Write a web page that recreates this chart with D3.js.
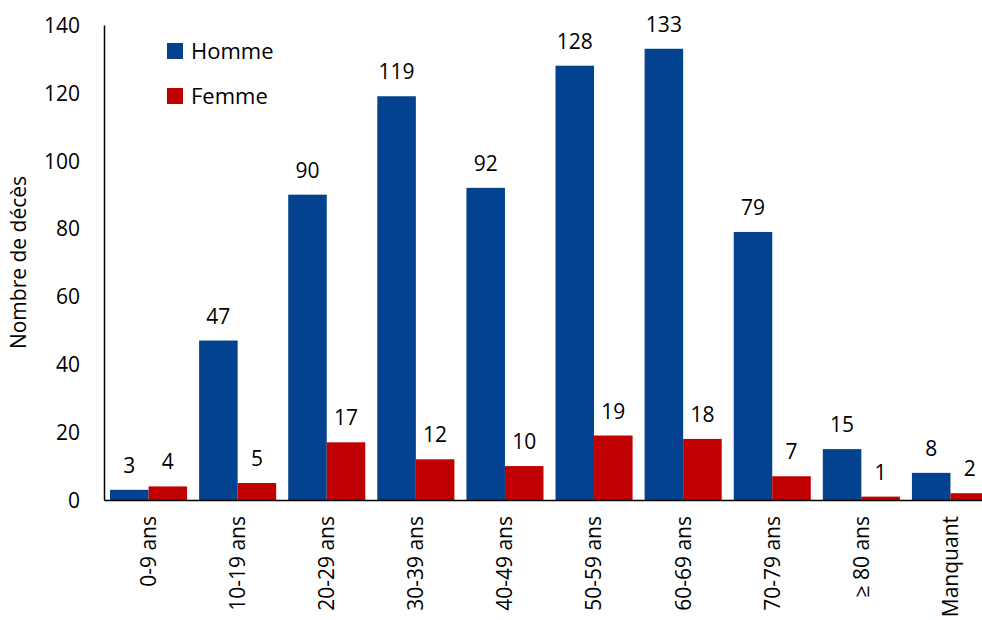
<!DOCTYPE html>
<html>
<head>
<meta charset="utf-8">
<script src="https://cdn.jsdelivr.net/npm/d3@7"></script>
<style>
  body { margin: 0; background: #fff; }
  text { font-family: "Open Sans", "Liberation Sans", sans-serif; fill: #000; }
</style>
</head>
<body>
<script>
// data
var categories = ['0-9 ans', '10-19 ans', '20-29 ans', '30-39 ans', '40-49 ans',
                  '50-59 ans', '60-69 ans', '70-79 ans', '≥ 80 ans', 'Manquant'];
var homme = [3, 47, 90, 119, 92, 128, 133, 79, 15, 8];
var femme = [4, 5, 17, 12, 10, 19, 18, 7, 1, 2];
var seriesNames = ['Homme', 'Femme'];
var colors = ['#02428f', '#c00000'];
var yTicks = [0, 20, 40, 60, 80, 100, 120, 140];

var svg = d3.select('body')
            .append('svg')
            .attr('width', 982)
            .attr('height', 620);

var plotLeft = 104, plotBottom = 500, plotTop = 25;

var x = d3.scaleBand()
          .domain(categories)
          .range([plotLeft, 995])
          .paddingInner(0.135)
          .paddingOuter(0.0675);

var xs = d3.scaleBand()
           .domain(seriesNames)
           .range([0, x.bandwidth()]);

var y = d3.scaleLinear()
          .domain([0, 140])
          .range([plotBottom, plotTop]);

var rows = categories.map(function (c, i) {
  return { cat: c, values: [homme[i], femme[i]] };
});

// bars
var groups = svg.append('g')
                .selectAll('g')
                .data(rows)
                .enter()
                .append('g')
                .attr('transform', function (d) { return 'translate(' + x(d.cat) + ',0)'; });

groups.selectAll('rect')
      .data(function (d) { return d.values; })
      .enter()
      .append('rect')
      .attr('x', function (d, i) { return xs(seriesNames[i]); })
      .attr('y', function (d) { return y(d); })
      .attr('width', xs.bandwidth())
      .attr('height', function (d) { return plotBottom - y(d); })
      .attr('fill', function (d, i) { return colors[i]; });

// value labels
groups.selectAll('text')
      .data(function (d) { return d.values; })
      .enter()
      .append('text')
      .attr('x', function (d, i) { return xs(seriesNames[i]) + xs.bandwidth() / 2; })
      .attr('y', function (d) { return y(d) - 17; })
      .attr('text-anchor', 'middle')
      .style('font-size', '21px')
      .text(function (d) { return d; });

// y axis
var yAxis = svg.append('g')
               .attr('transform', 'translate(' + plotLeft + ',0)')
               .call(d3.axisLeft(y).tickValues(yTicks).tickSize(0).tickPadding(24));
yAxis.select('.domain').attr('stroke', '#000').attr('stroke-width', 1.5);
yAxis.selectAll('text').style('font-size', '21px').attr('dy', '0.35em');

// x axis
var xAxis = svg.append('g')
               .attr('transform', 'translate(0,' + plotBottom + ')')
               .call(d3.axisBottom(x).tickSize(0).tickPadding(0));
xAxis.select('.domain').attr('stroke', '#000').attr('stroke-width', 1.5);
xAxis.selectAll('text')
     .style('font-size', '21px')
     .attr('text-anchor', 'end')
     .attr('transform', 'translate(0,16) rotate(-90)')
     .attr('x', 0)
     .attr('y', 0)
     .attr('dy', '0.35em');

// axis title
svg.append('text')
   .attr('transform', 'translate(26,' + ((plotTop + plotBottom) / 2) + ') rotate(-90)')
   .attr('text-anchor', 'middle')
   .style('font-size', '21px')
   .text('Nombre de décès');

// legend
var legend = svg.append('g')
                .selectAll('g')
                .data(seriesNames)
                .enter()
                .append('g')
                .attr('transform', function (d, i) { return 'translate(167,' + (43 + i * 45) + ')'; });
legend.append('rect')
      .attr('width', 16)
      .attr('height', 16)
      .attr('fill', function (d, i) { return colors[i]; });
legend.append('text')
      .attr('x', 24)
      .attr('y', 8)
      .attr('dy', '0.35em')
      .style('font-size', '22px')
      .text(function (d) { return d; });
</script>
</body>
</html>
